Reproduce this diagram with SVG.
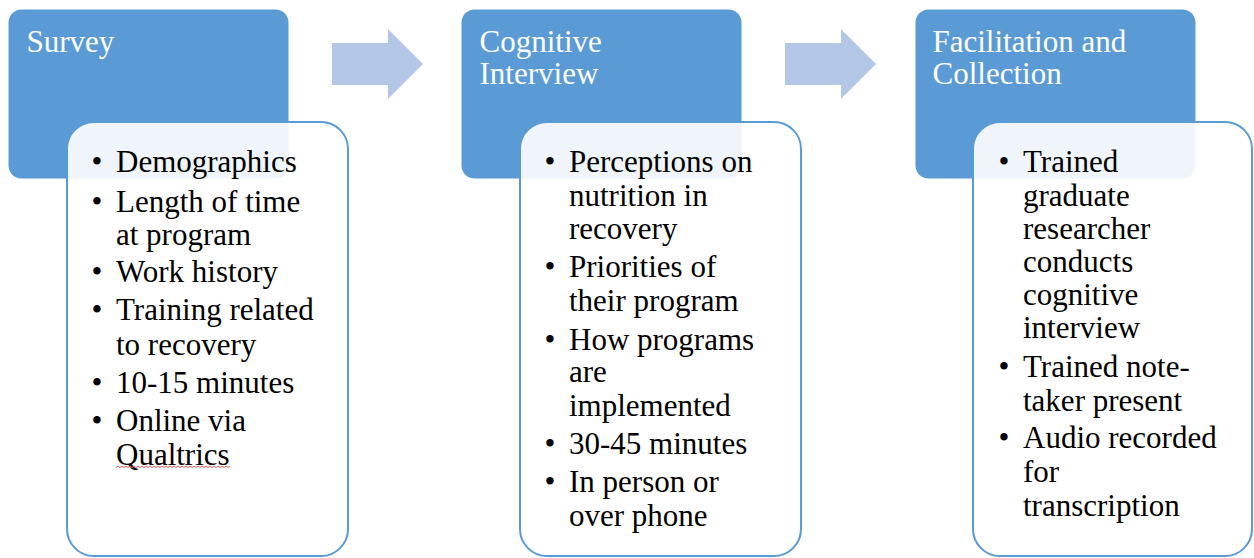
<svg xmlns="http://www.w3.org/2000/svg" width="1254" height="558" viewBox="0 0 1254 558">
<style>
.hdr{fill:#5B9BD5;}
.box{fill:#FFFFFF;fill-opacity:0.9;stroke:#5B9BD5;stroke-width:2;}
.arrow{fill:#B4C7E7;}
.ht{font-family:"Liberation Serif","Times New Roman",serif;font-size:31px;fill:#FFFFFF;}
.bt{font-family:"Liberation Serif","Times New Roman",serif;font-size:31px;fill:#000000;}
.bu{text-anchor:middle;}
.squig{fill:none;stroke:#E06060;stroke-width:1;}
</style>
<rect width="1254" height="558" fill="#FFFFFF"/>
<g id="connectors">
<polygon class="arrow" points="332,43 388,43 388,29 423,64 388,99 388,85 332,85"/>
<polygon class="arrow" points="785,43 841,43 841,29 876,64 841,99 841,85 785,85"/>
</g>
<g id="survey">
<rect class="hdr" x="8.5" y="9.5" width="280" height="169" rx="13"/>
<text class="ht" x="26.5" y="52">Survey</text>
<rect class="box" x="67" y="122" width="281" height="434" rx="27"/>
<g class="bt">
<text class="bu" x="97" y="172">•</text><text x="116" y="172">Demographics</text>
<text class="bu" x="97" y="212">•</text><text x="116" y="212">Length of time</text>
<text x="116" y="245">at program</text>
<text class="bu" x="97" y="282">•</text><text x="116" y="282">Work history</text>
<text class="bu" x="97" y="320">•</text><text x="116" y="320">Training related</text>
<text x="116" y="355">to recovery</text>
<text class="bu" x="97" y="393">•</text><text x="116" y="393">10-15 minutes</text>
<text class="bu" x="97" y="431">•</text><text x="116" y="431">Online via</text>
<text x="116" y="465">Qualtrics</text>
</g>
<path class="squig" d="M116,467.5 l2,-1.5 l2,1.5 l2,-1.5 l2,1.5 l2,-1.5 l2,1.5 l2,-1.5 l2,1.5 l2,-1.5 l2,1.5 l2,-1.5 l2,1.5 l2,-1.5 l2,1.5 l2,-1.5 l2,1.5 l2,-1.5 l2,1.5 l2,-1.5 l2,1.5 l2,-1.5 l2,1.5 l2,-1.5 l2,1.5 l2,-1.5 l2,1.5 l2,-1.5 l2,1.5 l2,-1.5 l2,1.5 l2,-1.5 l2,1.5 l2,-1.5 l2,1.5 l2,-1.5 l2,1.5 l2,-1.5 l2,1.5 l2,-1.5 l2,1.5 l2,-1.5 l2,1.5 l2,-1.5 l2,1.5 l2,-1.5 l2,1.5 l2,-1.5 l2,1.5 l2,-1.5 l2,1.5 l2,-1.5 l2,1.5 l2,-1.5 l2,1.5 l2,-1.5 l2,1.5 l2,-1.5"/>
</g>
<g id="cognitive-interview">
<rect class="hdr" x="461.5" y="9.5" width="280" height="169" rx="13"/>
<text class="ht" x="479.5" y="52">Cognitive</text>
<text class="ht" x="479.5" y="84">Interview</text>
<rect class="box" x="520" y="122" width="281" height="434" rx="27"/>
<g class="bt">
<text class="bu" x="550" y="172">•</text><text x="569" y="172">Perceptions on</text>
<text x="569" y="206">nutrition in</text>
<text x="569" y="239">recovery</text>
<text class="bu" x="550" y="277">•</text><text x="569" y="277">Priorities of</text>
<text x="569" y="311">their program</text>
<text class="bu" x="550" y="350">•</text><text x="569" y="350">How programs</text>
<text x="569" y="382">are</text>
<text x="569" y="416">implemented</text>
<text class="bu" x="550" y="454">•</text><text x="569" y="454">30-45 minutes</text>
<text class="bu" x="550" y="492">•</text><text x="569" y="492">In person or</text>
<text x="569" y="526">over phone</text>
</g>
</g>
<g id="facilitation-collection">
<rect class="hdr" x="915.5" y="9.5" width="280" height="169" rx="13"/>
<text class="ht" x="932.5" y="52">Facilitation and</text>
<text class="ht" x="932.5" y="84">Collection</text>
<rect class="box" x="973" y="122" width="279" height="434" rx="27"/>
<g class="bt">
<text class="bu" x="1004" y="172">•</text><text x="1023" y="172">Trained</text>
<text x="1023" y="206">graduate</text>
<text x="1023" y="239">researcher</text>
<text x="1023" y="272">conducts</text>
<text x="1023" y="305">cognitive</text>
<text x="1023" y="338">interview</text>
<text class="bu" x="1004" y="377">•</text><text x="1023" y="377">Trained note-</text>
<text x="1023" y="411">taker present</text>
<text class="bu" x="1004" y="448">•</text><text x="1023" y="448">Audio recorded</text>
<text x="1023" y="482">for</text>
<text x="1023" y="516">transcription</text>
</g>
</g>
</svg>
